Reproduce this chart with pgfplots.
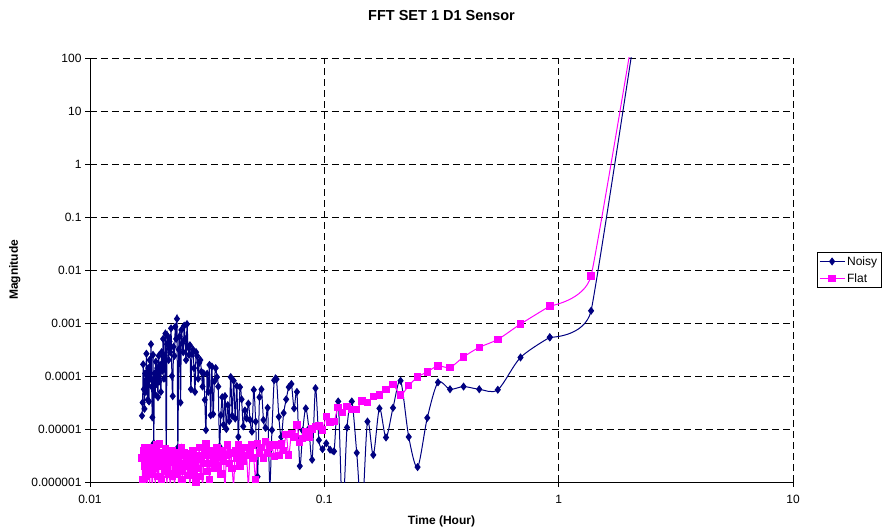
\documentclass[border=0pt]{standalone}
\usepackage{pgfplots}
\pgfplotsset{compat=1.18}
\usepackage{pgfplotstable}
\usepackage{fontspec}
\setmainfont{Liberation Sans}

\definecolor{noisyblue}{HTML}{000080}
\definecolor{flatpink}{HTML}{FF00FF}

% FFT magnitudes by period (hours); harmonic k has period 2.75/k
\pgfplotstableread{
x        noisy     flat
2.75     6.3e5     5.0e5
1.375    1.70e-3   7.76e-3
0.9167   5.37e-4   2.09e-3
0.6875   2.24e-4   9.55e-4
0.55     5.50e-5   4.90e-4
0.4583   5.62e-5   3.47e-4
0.3929   6.31e-5   2.29e-4
0.3438   5.62e-5   1.45e-4
0.3056   7.59e-5   1.55e-4
0.275    1.62e-5   1.20e-4
0.25     1.91e-6   9.55e-5
0.2292   7.08e-6   6.61e-5
0.2115   8.13e-5   4.37e-5
0.1964   2.51e-5   6.92e-5
0.1833   6.92e-6   5.62e-5
0.1719   2.45e-5   4.37e-5
0.1618   3.24e-6   4.07e-5
0.1528   1.38e-5   3.16e-5
0.1447   2.5e-7    3.39e-5
0.1375   3.55e-6   2.34e-5
0.1310   3.31e-5   2.34e-5
0.1250   1.07e-5   2.69e-5
0.1196   2.5e-7    2.04e-5
0.1146   3.31e-5   2.57e-5
0.11     3.80e-6   1.38e-5
0.1058   4.07e-6   1.32e-5
0.1019   5.37e-6   1.70e-5
0.09821  4.17e-6   9.55e-6
0.09483  6.17e-6   1.15e-5
0.09167  5.89e-5   1.12e-5
0.08871  2.63e-6   1.00e-5
0.08594  1.02e-5   7.08e-6
0.08333  2.45e-5   8.91e-6
0.08088  9.33e-6   6.61e-6
0.07857  2.00e-6   5.50e-6
0.07639  5.01e-5   1.20e-5
0.07432  2.45e-5   7.08e-6
0.07237  7.08e-5   8.13e-6
0.07051  6.17e-5   3.24e-6
0.06875  3.63e-5   7.94e-6
0.06707  2.00e-5   3.98e-6
0.06548  7.08e-6   5.37e-6
0.06395  1.70e-5   3.16e-6
0.0625   8.71e-5   5.01e-6
0.06111  8.32e-5   3.02e-6
0.05978  9.55e-6   5.01e-6
0.05851  8.9e-7    4.47e-6
0.05729  2.51e-5   3.55e-6
0.05612  1.05e-5   5.75e-6
0.055    1.48e-5   2.82e-6
0.05392  5.62e-5   4.47e-6
0.05288  3.98e-5   3.55e-6
0.05189  1.26e-6   5.37e-6
0.05093  1.38e-5   1.12e-6
0.05     5.50e-5   2.82e-6
0.04911  8.91e-6   5.01e-6
0.04825  1.48e-5   3.98e-6
0.04741  3.02e-5   8.9e-7
0.04661  1.58e-5   3.16e-6
0.04583  2.24e-5   4.47e-6
0.04508  1.12e-5   2.51e-6
0.04435  3.63e-5   3.55e-6
0.04365  6.17e-5   2.00e-6
0.04297  7.08e-6   5.01e-6
0.04231  6.46e-5   2.82e-6
0.04167  1.58e-5   3.98e-6
0.04104  8.13e-5   8.9e-7
0.04044  1.78e-5   1.78e-6
0.03986  9.55e-5   3.55e-6
0.03929  1.41e-5   2.24e-6
0.03873  2.82e-5   5.01e-6
0.03819  1.00e-5   3.16e-6
0.03767  4.17e-5   7.9e-7
0.03716  1.20e-5   2.51e-6
0.03667  3.98e-5   3.98e-6
0.03618  1.82e-5   1.41e-6
0.03571  4.68e-6   3.55e-6
0.03526  6.31e-5   2.00e-6
0.03481  9.55e-5   4.47e-6
0.03438  1.41e-4   2.82e-6
0.03395  7.94e-5   1.78e-6
0.03354  1.91e-5   3.98e-6
0.03313  1.51e-4   2.24e-6
0.03274  1.82e-5   3.55e-6
0.03235  1.62e-4   1.12e-6
0.03198  5.01e-5   3.16e-6
0.03161  1.10e-4   1.58e-6
0.03125  9.55e-6   5.37e-6
0.0309   3.55e-5   3.98e-6
0.03056  1.12e-4   2.24e-6
0.03022  6.31e-5   7.9e-7
0.02989  1.20e-4   2.82e-6
0.02957  2.00e-4   1.26e-6
0.02926  1.78e-4   4.47e-6
0.02895  8.91e-5   1.78e-6
0.02865  2.40e-4   3.16e-6
0.02835  2.82e-4   1.00e-6
0.02806  5.01e-5   2.51e-6
0.02778  1.41e-4   1.41e-6
0.0275   3.16e-4   3.98e-6
0.02723  2.63e-4   1.78e-6
0.02696  5.62e-5   3.39e-6
0.0267   3.80e-4   7.1e-7
0.02644  2.51e-4   2.82e-6
0.02619  3.55e-4   1.32e-6
0.02594  9.55e-4   3.16e-6
0.0257   2.00e-4   2.00e-6
0.02546  5.01e-4   8.9e-7
0.02523  8.91e-4   3.55e-6
0.025    2.82e-4   2.24e-6
0.02477  4.17e-4   1.12e-6
0.02455  7.41e-4   4.47e-6
0.02434  3.16e-5   1.58e-6
0.02412  5.62e-4   3.16e-6
0.02391  3.16e-4   5.6e-7
0.02371  4.47e-6   2.51e-6
0.0235   1.20e-3   1.41e-6
0.02331  5.01e-4   3.55e-6
0.02311  8.51e-4   1.78e-6
0.02292  2.40e-4   7.9e-7
0.02273  3.55e-4   2.82e-6
0.02254  4.17e-5   1.26e-6
0.02236  1.00e-4   3.98e-6
0.02218  7.94e-4   2.40e-6
0.022    2.82e-4   6.3e-7
0.02183  4.47e-4   3.55e-6
0.02165  2.00e-4   1.41e-6
0.02148  5.62e-4   2.82e-6
0.02132  3.98e-4   8.9e-7
0.02115  3.16e-6   2.00e-6
0.02099  6.31e-4   4.17e-6
0.02083  2.40e-4   1.58e-6
0.02068  8.91e-5   3.16e-6
0.02052  5.01e-4   5.0e-7
0.02037  1.26e-4   2.51e-6
0.02022  2.82e-4   1.12e-6
0.02007  5.01e-5   3.55e-6
0.01993  1.62e-4   2.24e-6
0.01978  7.94e-5   5.25e-6
0.01964  2.40e-4   7.1e-7
0.0195   3.98e-5   2.00e-6
0.01937  1.41e-4   1.26e-6
0.01923  7.08e-5   5.01e-6
0.0191   1.86e-4   2.51e-6
0.01897  4.47e-5   8.9e-7
0.01884  1.12e-4   3.98e-6
0.01871  5.37e-6   1.78e-6
0.01858  2.51e-4   2.82e-6
0.01846  1.66e-5   5.6e-7
0.01833  6.31e-5   1.41e-6
0.01821  3.98e-4   4.47e-6
0.01809  8.91e-5   2.24e-6
0.01797  2.00e-4   7.9e-7
0.01786  3.31e-5   3.16e-6
0.01774  1.41e-4   1.58e-6
0.01763  3.55e-5   3.55e-6
0.01752  7.94e-5   5.0e-7
0.01741  2.63e-4   2.51e-6
0.0173   5.01e-5   1.26e-6
0.01719  1.12e-4   4.47e-6
0.01708  2.40e-5   2.00e-6
0.01698  5.62e-5   6.3e-7
0.01687  1.66e-4   3.98e-6
0.01677  3.16e-5   1.12e-6
0.01667  1.78e-5   2.82e-6
}\fftdata

\begin{document}
\begin{tikzpicture}
\path[use as bounding box] (0pt,0pt) rectangle (884pt,532pt);
\begin{axis}[
  at={(90pt,50pt)}, anchor=south west,
  width=703pt, height=424pt, scale only axis,
  xmode=log, ymode=log,
  xmin=0.01, xmax=10, ymin=1e-6, ymax=100,
  xtick={0.01,0.1,1,10},
  xticklabels={0.01,0.1,1,10},
  ytick={1e-6,1e-5,1e-4,1e-3,1e-2,1e-1,1,10,100},
  yticklabels={0.000001,0.00001,0.0001,0.001,0.01,0.1,1,10,100},
  xminorticks=false, yminorticks=false,
  axis x line*=bottom, axis y line*=left,
  axis line style={black, line width=0.8pt, -},
  tick align=outside, major tick length=5pt,
  tick style={black, line width=0.8pt},
  grid=major,
  major grid style={black, line width=0.7pt, dash pattern=on 7pt off 4pt},
  ticklabel style={font=\fontsize{12}{14}\selectfont},
  xticklabel style={yshift=-5pt},
  /pgf/number format/assume math mode=true,
  title={FFT SET 1 D1 Sensor},
  title style={at={(axis description cs:0.5,1.087)}, anchor=center,
    font=\fontsize{14.5}{17}\selectfont\bfseries},
  xlabel={Time (Hour)},
  xlabel style={at={(axis description cs:0.5,-0.093)}, anchor=center,
    font=\fontsize{12}{14}\selectfont\bfseries},
  ylabel={Magnitude},
  ylabel style={at={(axis description cs:-0.107,0.5)}, anchor=center, rotate=0,
    font=\fontsize{12}{14}\selectfont\bfseries},
  legend style={at={(axis description cs:1.0337,0.5425)}, anchor=north west,
    draw=black, line width=0.8pt, font=\fontsize{12}{14}\selectfont,
    inner xsep=2pt, inner ysep=2pt, row sep=3pt},
  legend cell align=left,
  legend image code/.code={%
    \draw[mark repeat=2, mark phase=2, #1]
      plot coordinates {(0pt,0pt) (12.5pt,0pt) (25pt,0pt)};},
]
% rise to the fundamental (k=1, far above the axis): a gently rounded
% elbow through k=3 and k=2, with the k=2 mark
\addplot[color=noisyblue, line width=1pt, smooth, tension=0.2,
  mark=diamond*, mark size=3.3pt, mark options={solid, fill=noisyblue},
  mark indices={1,2}, forget plot, skip coords between index={3}{200}]
  table[x=x, y=noisy] {\fftdata};
\addplot[color=flatpink, line width=1pt, smooth, tension=0.2,
  mark=square*, mark size=3.2pt, mark options={solid, fill=flatpink},
  mark indices={1,2}, forget plot, skip coords between index={3}{200}]
  table[x=x, y=flat] {\fftdata};
% smoothed spectra from the 1-minute period up to k=3
\addplot[color=noisyblue, line width=1pt, smooth, tension=0.5,
  mark=diamond*, mark size=3.3pt, mark options={solid, fill=noisyblue},
  skip coords between index={0}{2}]
  table[x=x, y=noisy] {\fftdata};
\addlegendentry{Noisy}
\addplot[color=flatpink, line width=1pt, smooth, tension=0.5,
  mark=square*, mark size=3.2pt, mark options={solid, fill=flatpink},
  skip coords between index={0}{2}]
  table[x=x, y=flat] {\fftdata};
\addlegendentry{Flat}
\end{axis}
\end{tikzpicture}
\end{document}
